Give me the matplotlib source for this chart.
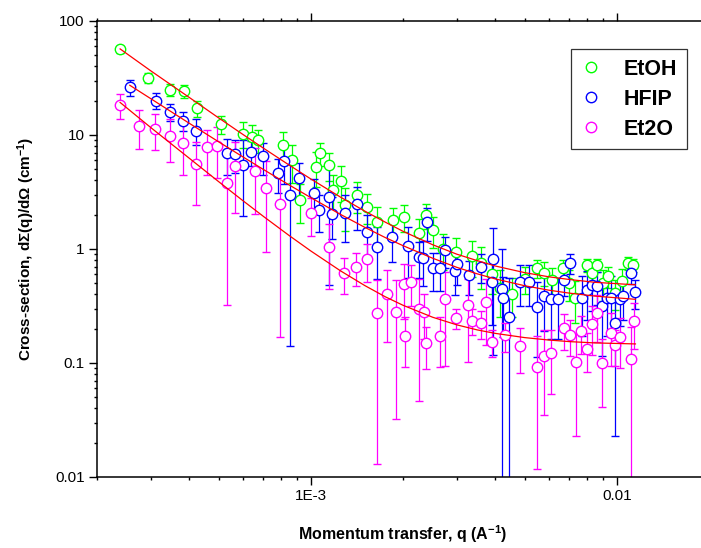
import matplotlib

matplotlib.use('Agg')
import matplotlib.pyplot as plt
from matplotlib.lines import Line2D
from matplotlib.ticker import FixedLocator, LogLocator, NullFormatter

plt.rcParams['font.family'] = ['Liberation Sans', 'DejaVu Sans']
plt.rcParams['mathtext.fontset'] = 'custom'
plt.rcParams['mathtext.rm'] = 'Liberation Sans:bold'
plt.rcParams['mathtext.default'] = 'rm'

# EtOH
q_etoh = [2.38e-4, 2.94e-4, 3.46e-4, 3.85e-4, 4.26e-4, 5.10e-4, 6.01e-4, 6.40e-4, 6.73e-4,
          8.12e-4, 8.69e-4, 9.2e-4, 1.04e-3, 1.07e-3, 1.15e-3, 1.18e-3, 1.25e-3, 1.29e-3,
          1.42e-3, 1.53e-3, 1.65e-3, 1.85e-3, 2.02e-3, 2.26e-3, 2.37e-3, 2.51e-3, 2.71e-3,
          2.99e-3, 3.35e-3, 3.61e-3, 3.9e-3, 4.15e-3, 4.53e-3, 5.0e-3, 5.47e-3, 5.8e-3,
          6.12e-3, 6.68e-3, 7.0e-3, 7.29e-3, 7.96e-3, 8.3e-3, 8.59e-3, 9.0e-3, 9.37e-3,
          9.85e-3, 1.04e-2, 1.09e-2, 1.13e-2]
i_etoh = [56.5, 31.8, 24.8, 24.3, 17.1, 12.4, 10.3, 9.7, 9.0,
          8.2, 6.0, 2.7, 5.27, 6.9, 5.46, 3.3, 3.97, 2.43,
          2.98, 2.35, 1.73, 1.80, 1.92, 1.37, 1.99, 1.47, 1.01,
          0.946, 0.869, 0.75, 0.60, 0.455, 0.403, 0.55, 0.678, 0.62,
          0.535, 0.678, 0.50, 0.374, 0.724, 0.62, 0.724, 0.50, 0.579,
          0.414, 0.52, 0.748, 0.724]
e_etoh = [4.0, 3.5, 3.0, 3.0, 2.7, 2.2, 2.6, 2.5, 2.1,
          2.4, 2.2, 1.0, 1.8, 1.6, 1.5, 1.2, 1.4, 1.0,
          0.9, 0.7, 0.6, 0.5, 0.5, 0.45, 0.5, 0.45, 0.35,
          0.3, 0.3, 0.3, 0.2, 0.2, 0.15, 0.15, 0.12, 0.15,
          0.15, 0.12, 0.15, 0.15, 0.1, 0.12, 0.1, 0.15, 0.12,
          0.12, 0.15, 0.1, 0.1]

# HFIP
q_hfip = [2.56e-4, 3.11e-4, 3.46e-4, 3.83e-4, 4.20e-4, 5.30e-4, 5.65e-4, 6.01e-4, 6.37e-4,
          6.99e-4, 7.82e-4, 8.16e-4, 8.54e-4, 9.16e-4, 1.02e-3, 1.06e-3, 1.15e-3, 1.17e-3,
          1.29e-3, 1.41e-3, 1.53e-3, 1.65e-3, 1.84e-3, 2.08e-3, 2.26e-3, 2.33e-3, 2.39e-3,
          2.51e-3, 2.64e-3, 2.74e-3, 2.96e-3, 3.01e-3, 3.29e-3, 3.59e-3, 3.90e-3, 3.95e-3,
          4.20e-3, 4.24e-3, 4.45e-3, 4.84e-3, 5.15e-3, 5.47e-3, 5.77e-3, 6.08e-3, 6.40e-3,
          6.71e-3, 7.02e-3, 7.67e-3, 7.96e-3, 8.27e-3, 8.59e-3, 8.96e-3, 9.28e-3, 9.55e-3,
          9.85e-3, 1.02e-2, 1.05e-2, 1.11e-2, 1.15e-2]
i_hfip = [26.2, 20.0, 16.0, 13.4, 10.9, 6.9, 6.8, 5.46, 7.1,
          6.5, 4.6, 5.9, 2.98, 4.17, 3.08, 2.20, 2.88, 2.03,
          2.06, 2.48, 1.40, 1.05, 1.27, 1.06, 0.857, 0.828, 1.73,
          0.678, 0.678, 0.980, 0.646, 0.738, 0.592, 0.700, 0.517, 0.817,
          0.443, 0.370, 0.255, 0.517, 0.517, 0.312, 0.389, 0.362, 0.362,
          0.535, 0.758, 0.374, 0.437, 0.483, 0.474, 0.316, 0.374, 0.374,
          0.223, 0.362, 0.389, 0.612, 0.417]
e_hfip = [4.0, 3.2, 2.8, 2.5, 2.8, 2.4, 2.2, 3.5, 1.8,
          2.0, 1.5, 2.2, 2.84, 1.5, 1.0, 0.8, 2.4, 0.8,
          0.9, 1.0, 0.6, 0.5, 0.5, 0.5, 0.3, 0.35, 0.55,
          0.25, 0.25, 0.3, 0.25, 0.25, 0.2, 0.2, 0.3, 0.7,
          0.55, 0.2, 0.3, 0.2, 0.2, 0.2, 0.2, 0.2, 0.2,
          0.15, 0.15, 0.2, 0.2, 0.2, 0.15, 0.2, 0.2, 0.2,
          0.2, 0.15, 0.15, 0.12, 0.12]

# Et2O
q_et2o = [2.38e-4, 2.75e-4, 3.09e-4, 3.46e-4, 3.83e-4, 4.20e-4, 4.56e-4, 4.92e-4, 5.30e-4,
          5.65e-4, 6.56e-4, 7.11e-4, 7.92e-4, 9.98e-4, 1.15e-3, 1.28e-3, 1.40e-3, 1.53e-3,
          1.65e-3, 1.77e-3, 1.90e-3, 2.01e-3, 2.03e-3, 2.13e-3, 2.26e-3, 2.35e-3, 2.37e-3,
          2.65e-3, 2.74e-3, 2.98e-3, 3.27e-3, 3.36e-3, 3.59e-3, 3.73e-3, 3.92e-3, 4.30e-3,
          4.84e-3, 5.47e-3, 5.77e-3, 6.08e-3, 6.71e-3, 7.02e-3, 7.33e-3, 7.63e-3, 7.96e-3,
          8.30e-3, 8.59e-3, 8.96e-3, 9.55e-3, 9.85e-3, 1.02e-2, 1.11e-2, 1.14e-2]
i_et2o = [18.3, 12.0, 11.4, 9.8, 8.45, 5.53, 7.8, 8.0, 3.82,
          5.38, 4.83, 3.45, 2.47, 2.06, 1.05, 0.62, 0.70, 0.81,
          0.273, 0.403, 0.282, 0.493, 0.173, 0.517, 0.296, 0.282, 0.149,
          0.173, 0.364, 0.25, 0.323, 0.235, 0.223, 0.345, 0.154, 0.176,
          0.142, 0.0917, 0.115, 0.123, 0.201, 0.176, 0.103, 0.191, 0.133,
          0.218, 0.273, 0.101, 0.185, 0.144, 0.170, 0.108, 0.233]
e_et2o = [4.6, 4.5, 4.0, 4.0, 4.0, 3.1, 3.3, 3.8, 3.5,
          3.3, 2.8, 2.5, 2.3, 0.75, 0.6, 0.22, 0.23, 0.3,
          0.26, 0.25, 0.25, 0.25, 0.08, 0.2, 0.25, 0.12, 0.06,
          0.08, 0.27, 0.05, 0.22, 0.06, 0.06, 0.2, 0.04, 0.05,
          0.06, 0.08, 0.08, 0.07, 0.07, 0.06, 0.08, 0.07, 0.05,
          0.1, 0.12, 0.06, 0.09, 0.05, 0.08, 0.1, 0.1]

# fitted curves
fit_q_etoh = [2.38e-4, 3e-4, 4e-4, 5e-4, 6e-4, 7e-4, 8.5e-4, 1e-3, 1.25e-3, 1.5e-3, 1.75e-3,
              2e-3, 2.5e-3, 3e-3, 3.5e-3, 4e-3, 5e-3, 6e-3, 7e-3, 8.5e-3, 1.15e-2]
fit_i_etoh = [56.9, 36.5, 21.4, 14.1, 10.1, 7.66, 5.44, 4.11, 2.85, 2.15, 1.72,
              1.43, 1.09, 0.90, 0.79, 0.71, 0.62, 0.57, 0.54, 0.51, 0.485]
fit_q_hfip = [2.56e-4, 3e-4, 4e-4, 5e-4, 6e-4, 7e-4, 8.5e-4, 1e-3, 1.25e-3, 1.5e-3, 1.75e-3,
              2e-3, 2.5e-3, 3e-3, 3.5e-3, 4e-3, 5e-3, 6e-3, 7e-3, 8.5e-3, 1.15e-2]
fit_i_hfip = [27.3, 20.8, 12.7, 8.70, 6.42, 4.98, 3.64, 2.82, 2.01, 1.55, 1.26,
              1.07, 0.83, 0.69, 0.605, 0.547, 0.476, 0.435, 0.41, 0.386, 0.362]
fit_q_et2o = [2.38e-4, 3e-4, 4e-4, 5e-4, 6e-4, 7e-4, 8.5e-4, 1e-3, 1.25e-3, 1.5e-3, 1.75e-3,
              2e-3, 2.5e-3, 3e-3, 3.5e-3, 4e-3, 5e-3, 6e-3, 7e-3, 8.5e-3, 1.15e-2]
fit_i_et2o = [19.3, 11.6, 6.27, 3.89, 2.65, 1.93, 1.31, 0.96, 0.643, 0.478, 0.381,
              0.321, 0.252, 0.216, 0.195, 0.182, 0.167, 0.159, 0.154, 0.150, 0.147]

labels = ['EtOH', 'HFIP', 'Et2O']
colors = ['#00ff00', '#0000ff', '#ff00ff']

fig = plt.figure(figsize=(7.01, 5.48), dpi=100)
ax = fig.add_axes([97 / 701, 1 - 477 / 548, 612 / 701, 456 / 548])

series = [(q_etoh, i_etoh, e_etoh), (q_hfip, i_hfip, e_hfip), (q_et2o, i_et2o, e_et2o)]
for (q, i, e), c in zip(series, colors):
    ax.errorbar(q, i, yerr=e, fmt='o', ms=7.5, mfc='white', mec=c, mew=1.0,
                ecolor=c, elinewidth=0.9, capsize=3, capthick=0.9)

for fq, fi in [(fit_q_etoh, fit_i_etoh), (fit_q_hfip, fit_i_hfip), (fit_q_et2o, fit_i_et2o)]:
    ax.plot(fq, fi, color='red', lw=0.9, zorder=5)

ax.set_xscale('log')
ax.set_yscale('log')
ax.set_xlim(2e-4, 0.02)
ax.set_ylim(0.01, 100)

ax.xaxis.set_major_locator(FixedLocator([1e-3, 1e-2]))
ax.set_xticklabels(['1E-3', '0.01'])
ax.xaxis.set_minor_locator(LogLocator(base=10, subs=range(2, 10)))
ax.xaxis.set_minor_formatter(NullFormatter())
ax.yaxis.set_major_locator(FixedLocator([0.01, 0.1, 1, 10, 100]))
ax.set_yticklabels(['0.01', '0.1', '1', '10', '100'])
ax.yaxis.set_minor_locator(LogLocator(base=10, subs=range(2, 10)))
ax.yaxis.set_minor_formatter(NullFormatter())

ax.tick_params(which='both', direction='out', top=True, right=True, width=1.0, labelsize=11)
ax.tick_params(which='major', length=5.5)
ax.tick_params(which='minor', length=2.5)
for s in ax.spines.values():
    s.set_linewidth(1.1)

ax.set_xlabel('Momentum transfer, q (A$^{-1}$)', fontsize=11.5, fontweight='bold', labelpad=14)
ax.set_ylabel('Cross-section, d\u03a3(q)/d\u03a9 (cm$^{-1}$)', fontsize=11, fontweight='bold', labelpad=13)

handles = [Line2D([], [], ls='none', marker='o', ms=7.5, mfc='white', mec=c, mew=1.0) for c in colors]
leg = ax.legend(handles, labels, loc='upper right', bbox_to_anchor=(0.964, 0.939),
                borderaxespad=0, fancybox=False, edgecolor='#333333', framealpha=1,
                prop={'weight': 'bold', 'size': 15.5}, handlelength=1.0, handletextpad=1.0,
                labelspacing=0.42, borderpad=0.45)
leg.get_frame().set_linewidth(0.9)

plt.savefig('out.png', dpi=100)
plt.close()
